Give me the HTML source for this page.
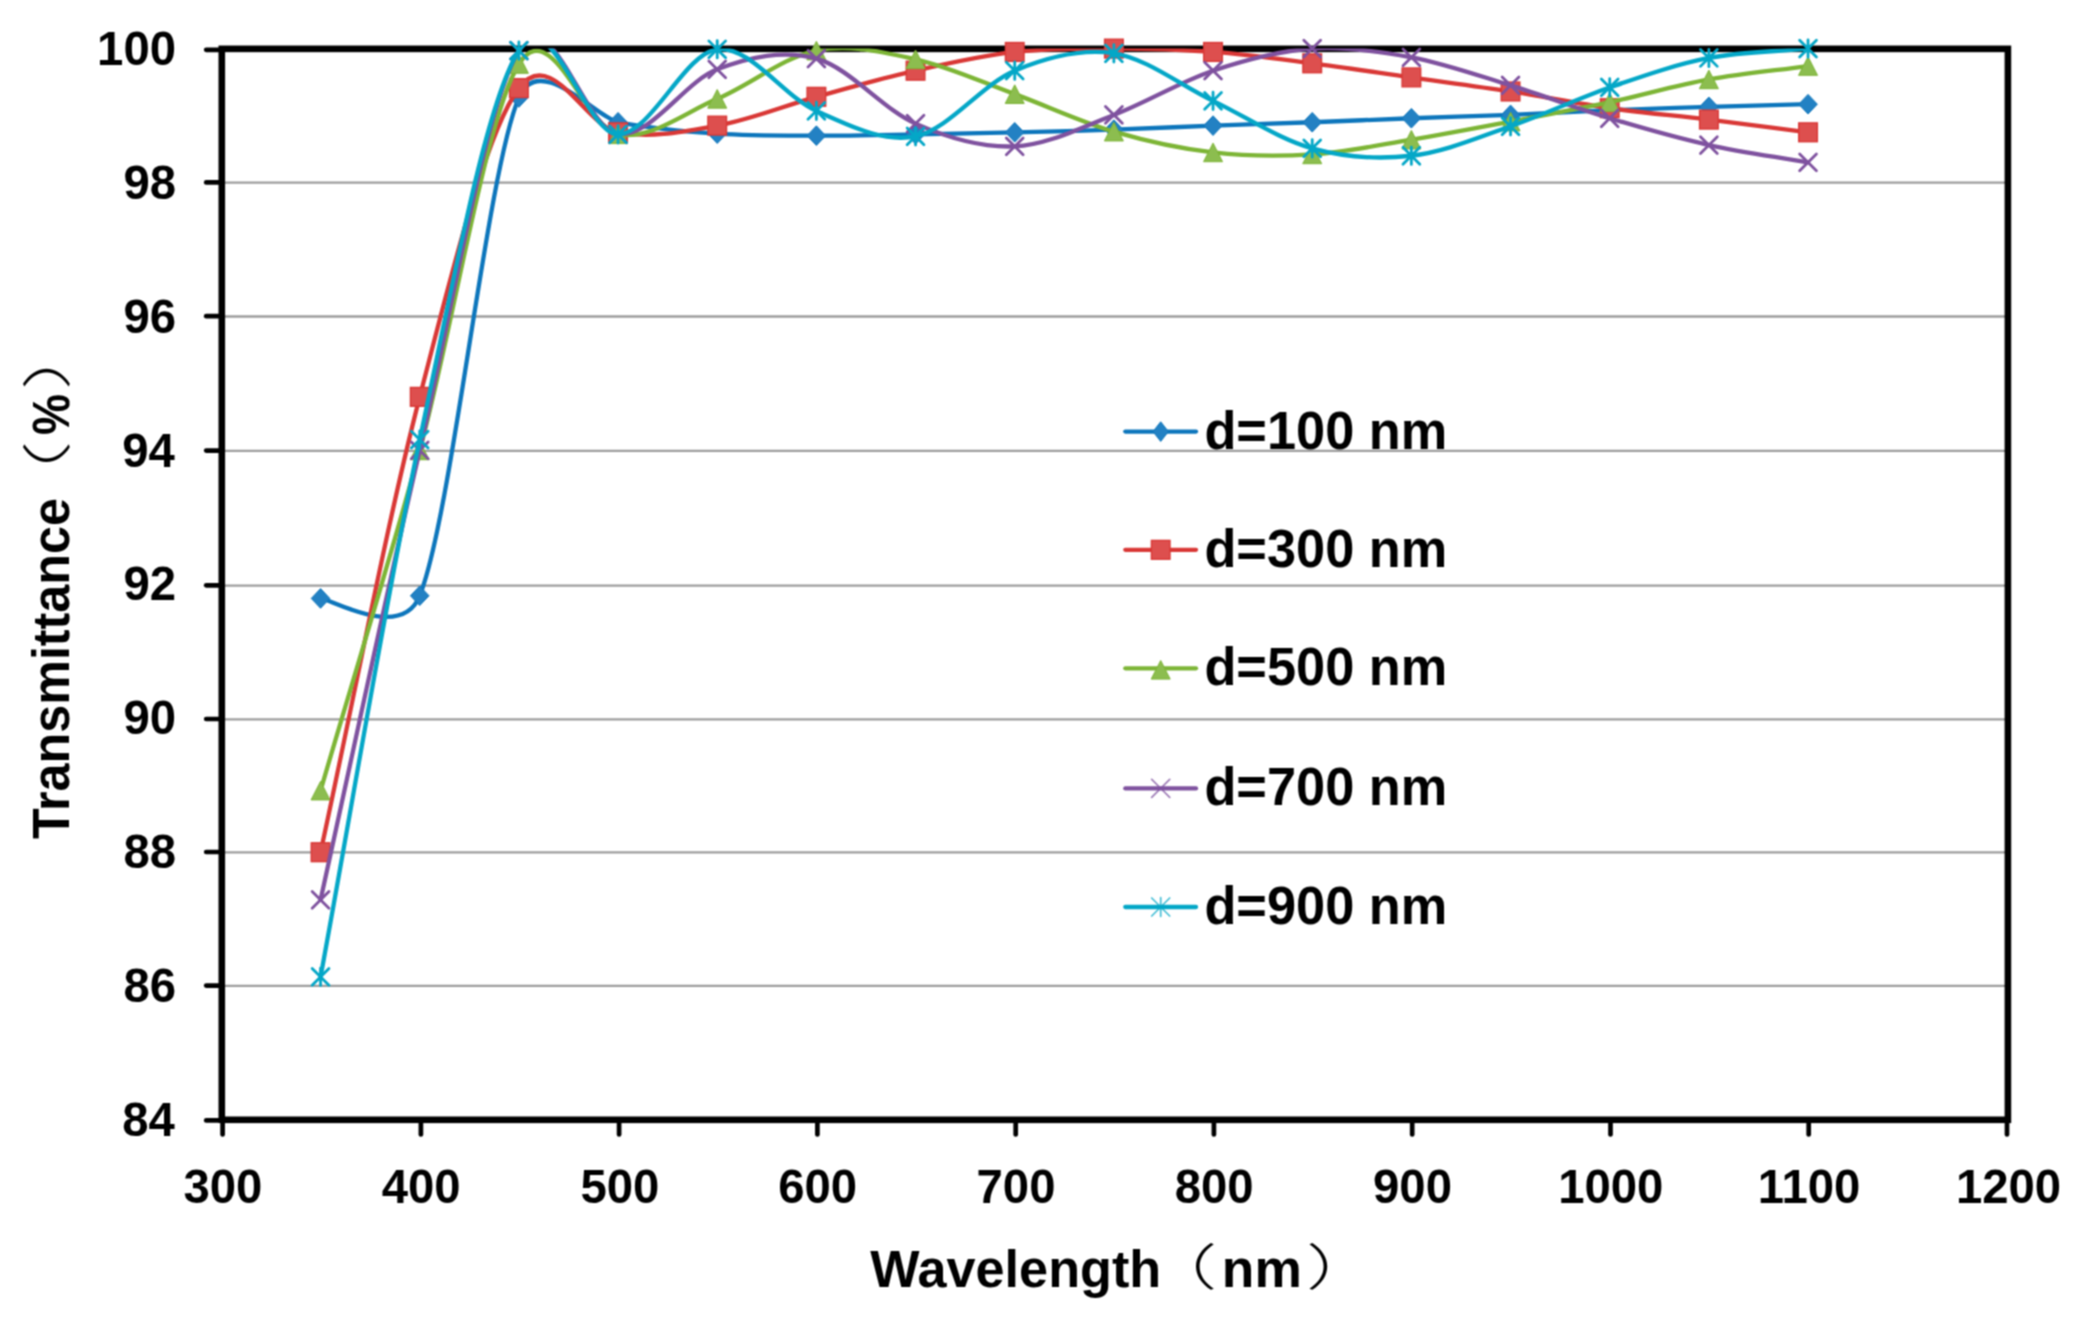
<!DOCTYPE html>
<html lang="en"><head><meta charset="utf-8"><title>Transmittance vs Wavelength</title>
<style>html,body{margin:0;padding:0;background:#fff}svg{display:block}text{font-family:"Liberation Sans","Noto Sans CJK SC",sans-serif;font-weight:bold;fill:#000}.cjk{font-family:"Noto Sans CJK SC","WenQuanYi Zen Hei",sans-serif;font-weight:300}</style></head><body>
<svg width="2085" height="1320" viewBox="0 0 2085 1320">
<rect width="2085" height="1320" fill="#fff"/>
<defs><clipPath id="plot"><rect x="221.8" y="48.6" width="1786.2" height="1071.4"/></clipPath><filter id="soft" x="0" y="0" width="2085" height="1320" filterUnits="userSpaceOnUse" color-interpolation-filters="sRGB"><feConvolveMatrix order="3" kernelMatrix="1 2 1 2 4 2 1 2 1" divisor="16" edgeMode="duplicate" preserveAlpha="false"/></filter></defs>
<g filter="url(#soft)">
<g stroke="#9c9c9c" stroke-width="2.3">
<line x1="222" x2="2007" y1="985.9" y2="985.9"/>
<line x1="222" x2="2007" y1="852.3" y2="852.3"/>
<line x1="222" x2="2007" y1="719.3" y2="719.3"/>
<line x1="222" x2="2007" y1="585.6" y2="585.6"/>
<line x1="222" x2="2007" y1="450.9" y2="450.9"/>
<line x1="222" x2="2007" y1="316.5" y2="316.5"/>
<line x1="222" x2="2007" y1="182.7" y2="182.7"/>
</g>
<rect x="221.8" y="48.85" width="1786.1" height="1070.95" fill="none" stroke="#000" stroke-width="6.6"/>
<g stroke="#000" stroke-width="4.7" stroke-linecap="round">
<line x1="206.2" x2="221" y1="1120.4" y2="1120.4"/>
<line x1="206.2" x2="221" y1="985.6" y2="985.6"/>
<line x1="206.2" x2="221" y1="852.0" y2="852.0"/>
<line x1="206.2" x2="221" y1="719.0" y2="719.0"/>
<line x1="206.2" x2="221" y1="585.3" y2="585.3"/>
<line x1="206.2" x2="221" y1="450.6" y2="450.6"/>
<line x1="206.2" x2="221" y1="316.2" y2="316.2"/>
<line x1="206.2" x2="221" y1="182.4" y2="182.4"/>
<line x1="206.2" x2="221" y1="49.8" y2="49.8"/>
<line x1="222.6" x2="222.6" y1="1121" y2="1134.5"/>
<line x1="420.9" x2="420.9" y1="1121" y2="1134.5"/>
<line x1="619.1" x2="619.1" y1="1121" y2="1134.5"/>
<line x1="817.4" x2="817.4" y1="1121" y2="1134.5"/>
<line x1="1015.7" x2="1015.7" y1="1121" y2="1134.5"/>
<line x1="1213.9" x2="1213.9" y1="1121" y2="1134.5"/>
<line x1="1412.2" x2="1412.2" y1="1121" y2="1134.5"/>
<line x1="1610.5" x2="1610.5" y1="1121" y2="1134.5"/>
<line x1="1808.7" x2="1808.7" y1="1121" y2="1134.5"/>
<line x1="2007.0" x2="2007.0" y1="1121" y2="1134.5"/>
</g>
<g font-size="47.3">
<text x="174.8" y="1135.9" text-anchor="end">84</text>
<text x="176.0" y="1002.0" text-anchor="end">86</text>
<text x="176.0" y="868.1" text-anchor="end">88</text>
<text x="176.0" y="734.2" text-anchor="end">90</text>
<text x="176.0" y="600.4" text-anchor="end">92</text>
<text x="174.8" y="466.5" text-anchor="end">94</text>
<text x="176.0" y="332.6" text-anchor="end">96</text>
<text x="176.0" y="198.8" text-anchor="end">98</text>
<text x="176.0" y="64.9" text-anchor="end">100</text>
<text x="222.9" y="1203.4" text-anchor="middle">300</text>
<text x="421.2" y="1203.4" text-anchor="middle">400</text>
<text x="619.9" y="1203.4" text-anchor="middle">500</text>
<text x="817.7" y="1203.4" text-anchor="middle">600</text>
<text x="1016.0" y="1203.4" text-anchor="middle">700</text>
<text x="1214.2" y="1203.4" text-anchor="middle">800</text>
<text x="1412.5" y="1203.4" text-anchor="middle">900</text>
<text x="1610.8" y="1203.4" text-anchor="middle">1000</text>
<text x="1809.0" y="1203.4" text-anchor="middle">1100</text>
<text x="2008.5" y="1203.4" text-anchor="middle">1200</text>
</g>
<g font-size="52.2">
<text x="870.2" y="1287.1" textLength="291" lengthAdjust="spacingAndGlyphs">Wavelength</text>
<text class="cjk" transform="translate(1217.3 1284.8) scale(1.500 1)" font-size="49.5" text-anchor="end">（</text>
<text x="1221.8" y="1287.1" textLength="80" lengthAdjust="spacingAndGlyphs">nm</text>
<text class="cjk" transform="translate(1306.0 1284.8) scale(1.500 1)" font-size="49.5" text-anchor="start">）</text>
<g transform="translate(69 0) rotate(-90)">
<text x="-839" y="0" textLength="341" lengthAdjust="spacingAndGlyphs">Transmittance</text>
<text class="cjk" transform="translate(-440.8 -4.0) scale(1.500 1)" font-size="49.5" text-anchor="end">（</text>
<text x="-435" y="0" textLength="41" lengthAdjust="spacingAndGlyphs">%</text>
<text class="cjk" transform="translate(-390.0 -4.0) scale(1.500 1)" font-size="49.5" text-anchor="start">）</text>
</g></g>
<g>
<path clip-path="url(#plot)" d="M320.56 598.42 C329.69 598.18 401.47 641.86 419.73 595.74 C452.79 512.26 485.84 176.40 518.89 97.49 C538.64 50.35 598.31 118.67 618.06 122.27 C651.12 128.29 684.17 131.42 717.23 133.65 C750.28 135.88 783.34 135.55 816.39 135.66 C849.44 135.77 882.50 134.88 915.55 134.32 C948.61 133.76 981.66 133.09 1014.72 132.31 C1047.78 131.53 1080.83 130.75 1113.88 129.63 C1146.94 128.52 1179.99 126.84 1213.05 125.62 C1246.11 124.39 1279.16 123.49 1312.22 122.27 C1345.27 121.04 1378.33 119.48 1411.38 118.25 C1444.44 117.02 1477.49 116.24 1510.55 114.90 C1543.60 113.56 1576.65 111.55 1609.71 110.21 C1642.77 108.87 1675.82 107.87 1708.88 106.86 C1741.93 105.86 1774.99 105.08 1808.04 104.19" fill="none" stroke="#0d76bc" stroke-width="4.3" stroke-linecap="round" stroke-linejoin="round"/>
<path d="M320.56 588.62 l9.30 9.8 l-9.30 9.8 l-9.30 -9.8 z" fill="#2381c3" stroke="#0d76bc" stroke-width="1" stroke-linejoin="round"/>
<path d="M419.73 585.94 l9.30 9.8 l-9.30 9.8 l-9.30 -9.8 z" fill="#2381c3" stroke="#0d76bc" stroke-width="1" stroke-linejoin="round"/>
<path d="M518.89 87.69 l9.30 9.8 l-9.30 9.8 l-9.30 -9.8 z" fill="#2381c3" stroke="#0d76bc" stroke-width="1" stroke-linejoin="round"/>
<path d="M618.06 112.47 l9.30 9.8 l-9.30 9.8 l-9.30 -9.8 z" fill="#2381c3" stroke="#0d76bc" stroke-width="1" stroke-linejoin="round"/>
<path d="M717.23 123.85 l9.30 9.8 l-9.30 9.8 l-9.30 -9.8 z" fill="#2381c3" stroke="#0d76bc" stroke-width="1" stroke-linejoin="round"/>
<path d="M816.39 125.86 l9.30 9.8 l-9.30 9.8 l-9.30 -9.8 z" fill="#2381c3" stroke="#0d76bc" stroke-width="1" stroke-linejoin="round"/>
<path d="M915.55 124.52 l9.30 9.8 l-9.30 9.8 l-9.30 -9.8 z" fill="#2381c3" stroke="#0d76bc" stroke-width="1" stroke-linejoin="round"/>
<path d="M1014.72 122.51 l9.30 9.8 l-9.30 9.8 l-9.30 -9.8 z" fill="#2381c3" stroke="#0d76bc" stroke-width="1" stroke-linejoin="round"/>
<path d="M1113.88 119.83 l9.30 9.8 l-9.30 9.8 l-9.30 -9.8 z" fill="#2381c3" stroke="#0d76bc" stroke-width="1" stroke-linejoin="round"/>
<path d="M1213.05 115.82 l9.30 9.8 l-9.30 9.8 l-9.30 -9.8 z" fill="#2381c3" stroke="#0d76bc" stroke-width="1" stroke-linejoin="round"/>
<path d="M1312.22 112.47 l9.30 9.8 l-9.30 9.8 l-9.30 -9.8 z" fill="#2381c3" stroke="#0d76bc" stroke-width="1" stroke-linejoin="round"/>
<path d="M1411.38 108.45 l9.30 9.8 l-9.30 9.8 l-9.30 -9.8 z" fill="#2381c3" stroke="#0d76bc" stroke-width="1" stroke-linejoin="round"/>
<path d="M1510.55 105.10 l9.30 9.8 l-9.30 9.8 l-9.30 -9.8 z" fill="#2381c3" stroke="#0d76bc" stroke-width="1" stroke-linejoin="round"/>
<path d="M1609.71 100.41 l9.30 9.8 l-9.30 9.8 l-9.30 -9.8 z" fill="#2381c3" stroke="#0d76bc" stroke-width="1" stroke-linejoin="round"/>
<path d="M1708.88 97.06 l9.30 9.8 l-9.30 9.8 l-9.30 -9.8 z" fill="#2381c3" stroke="#0d76bc" stroke-width="1" stroke-linejoin="round"/>
<path d="M1808.04 94.39 l9.30 9.8 l-9.30 9.8 l-9.30 -9.8 z" fill="#2381c3" stroke="#0d76bc" stroke-width="1" stroke-linejoin="round"/>
</g>
<g>
<path clip-path="url(#plot)" d="M320.56 852.24 C353.62 700.44 386.68 524.20 419.73 396.84 C452.79 269.49 485.84 132.20 518.89 88.11 C551.46 44.68 585.50 126.15 618.06 132.31 C651.12 138.56 684.17 131.53 717.23 125.62 C750.28 119.70 783.34 105.97 816.39 96.82 C849.44 87.67 882.50 78.18 915.55 70.70 C948.61 63.22 981.66 55.63 1014.72 51.95 C1047.78 48.27 1080.83 48.60 1113.88 48.60 C1146.94 48.60 1179.99 49.49 1213.05 51.95 C1246.11 54.40 1279.16 59.09 1312.22 63.33 C1345.27 67.57 1378.33 72.71 1411.38 77.40 C1444.44 82.09 1477.49 86.33 1510.55 91.46 C1543.60 96.60 1576.65 103.52 1609.71 108.20 C1642.77 112.89 1675.82 115.57 1708.88 119.59 C1741.93 123.61 1774.99 128.07 1808.04 132.31" fill="none" stroke="#d93836" stroke-width="4.3" stroke-linecap="round" stroke-linejoin="round"/>
<rect x="311.26" y="842.84" width="18.6" height="18.8" fill="#dd4f4e" stroke="#d93836" stroke-width="1.4"/>
<rect x="410.43" y="387.44" width="18.6" height="18.8" fill="#dd4f4e" stroke="#d93836" stroke-width="1.4"/>
<rect x="509.59" y="78.71" width="18.6" height="18.8" fill="#dd4f4e" stroke="#d93836" stroke-width="1.4"/>
<rect x="608.76" y="122.91" width="18.6" height="18.8" fill="#dd4f4e" stroke="#d93836" stroke-width="1.4"/>
<rect x="707.93" y="116.22" width="18.6" height="18.8" fill="#dd4f4e" stroke="#d93836" stroke-width="1.4"/>
<rect x="807.09" y="87.42" width="18.6" height="18.8" fill="#dd4f4e" stroke="#d93836" stroke-width="1.4"/>
<rect x="906.25" y="61.30" width="18.6" height="18.8" fill="#dd4f4e" stroke="#d93836" stroke-width="1.4"/>
<rect x="1005.42" y="42.55" width="18.6" height="18.8" fill="#dd4f4e" stroke="#d93836" stroke-width="1.4"/>
<rect x="1104.59" y="39.20" width="18.6" height="18.8" fill="#dd4f4e" stroke="#d93836" stroke-width="1.4"/>
<rect x="1203.75" y="42.55" width="18.6" height="18.8" fill="#dd4f4e" stroke="#d93836" stroke-width="1.4"/>
<rect x="1302.92" y="53.93" width="18.6" height="18.8" fill="#dd4f4e" stroke="#d93836" stroke-width="1.4"/>
<rect x="1402.08" y="68.00" width="18.6" height="18.8" fill="#dd4f4e" stroke="#d93836" stroke-width="1.4"/>
<rect x="1501.25" y="82.06" width="18.6" height="18.8" fill="#dd4f4e" stroke="#d93836" stroke-width="1.4"/>
<rect x="1600.41" y="98.80" width="18.6" height="18.8" fill="#dd4f4e" stroke="#d93836" stroke-width="1.4"/>
<rect x="1699.58" y="110.19" width="18.6" height="18.8" fill="#dd4f4e" stroke="#d93836" stroke-width="1.4"/>
<rect x="1798.74" y="122.91" width="18.6" height="18.8" fill="#dd4f4e" stroke="#d93836" stroke-width="1.4"/>
</g>
<g>
<path clip-path="url(#plot)" d="M320.56 790.63 C353.62 677.23 386.68 571.52 419.73 450.42 C452.79 329.32 485.84 116.69 518.89 64.00 C551.20 12.52 585.76 128.65 618.06 134.32 C651.12 140.13 684.17 112.78 717.23 98.83 C750.28 84.88 783.34 57.19 816.39 50.61 C849.44 44.02 882.50 52.06 915.55 59.32 C948.61 66.57 981.66 82.09 1014.72 94.14 C1047.78 106.19 1080.83 121.93 1113.88 131.64 C1146.94 141.35 1179.99 148.61 1213.05 152.40 C1246.11 156.20 1279.16 156.53 1312.22 154.41 C1345.27 152.29 1378.33 145.15 1411.38 139.68 C1444.44 134.21 1477.49 127.85 1510.55 121.60 C1543.60 115.35 1576.65 109.21 1609.71 102.18 C1642.77 95.14 1675.82 85.43 1708.88 79.41 C1741.93 73.38 1774.99 70.48 1808.04 66.01" fill="none" stroke="#7db536" stroke-width="4.3" stroke-linecap="round" stroke-linejoin="round"/>
<path d="M320.56 781.33 l9.5 18.6 l-19 0 z" fill="#8cbd4f" stroke="#7db536" stroke-width="1" stroke-linejoin="round"/>
<path d="M419.73 441.12 l9.5 18.6 l-19 0 z" fill="#8cbd4f" stroke="#7db536" stroke-width="1" stroke-linejoin="round"/>
<path d="M518.89 54.70 l9.5 18.6 l-19 0 z" fill="#8cbd4f" stroke="#7db536" stroke-width="1" stroke-linejoin="round"/>
<path d="M618.06 125.02 l9.5 18.6 l-19 0 z" fill="#8cbd4f" stroke="#7db536" stroke-width="1" stroke-linejoin="round"/>
<path d="M717.23 89.53 l9.5 18.6 l-19 0 z" fill="#8cbd4f" stroke="#7db536" stroke-width="1" stroke-linejoin="round"/>
<path d="M816.39 41.31 l9.5 18.6 l-19 0 z" fill="#8cbd4f" stroke="#7db536" stroke-width="1" stroke-linejoin="round"/>
<path d="M915.55 50.02 l9.5 18.6 l-19 0 z" fill="#8cbd4f" stroke="#7db536" stroke-width="1" stroke-linejoin="round"/>
<path d="M1014.72 84.84 l9.5 18.6 l-19 0 z" fill="#8cbd4f" stroke="#7db536" stroke-width="1" stroke-linejoin="round"/>
<path d="M1113.88 122.34 l9.5 18.6 l-19 0 z" fill="#8cbd4f" stroke="#7db536" stroke-width="1" stroke-linejoin="round"/>
<path d="M1213.05 143.10 l9.5 18.6 l-19 0 z" fill="#8cbd4f" stroke="#7db536" stroke-width="1" stroke-linejoin="round"/>
<path d="M1312.22 145.11 l9.5 18.6 l-19 0 z" fill="#8cbd4f" stroke="#7db536" stroke-width="1" stroke-linejoin="round"/>
<path d="M1411.38 130.38 l9.5 18.6 l-19 0 z" fill="#8cbd4f" stroke="#7db536" stroke-width="1" stroke-linejoin="round"/>
<path d="M1510.55 112.30 l9.5 18.6 l-19 0 z" fill="#8cbd4f" stroke="#7db536" stroke-width="1" stroke-linejoin="round"/>
<path d="M1609.71 92.88 l9.5 18.6 l-19 0 z" fill="#8cbd4f" stroke="#7db536" stroke-width="1" stroke-linejoin="round"/>
<path d="M1708.88 70.11 l9.5 18.6 l-19 0 z" fill="#8cbd4f" stroke="#7db536" stroke-width="1" stroke-linejoin="round"/>
<path d="M1808.04 56.71 l9.5 18.6 l-19 0 z" fill="#8cbd4f" stroke="#7db536" stroke-width="1" stroke-linejoin="round"/>
</g>
<g>
<path clip-path="url(#plot)" d="M320.56 899.79 C353.62 750.00 386.68 591.95 419.73 450.42 C452.79 308.89 485.84 103.29 518.89 50.61 C551.95 -2.07 585.01 131.20 618.06 134.32 C651.12 137.45 684.17 81.97 717.23 69.36 C750.28 56.75 783.34 49.60 816.39 58.65 C849.44 67.69 882.50 108.98 915.55 123.61 C948.61 138.23 981.66 147.83 1014.72 146.38 C1047.78 144.93 1080.83 127.51 1113.88 114.90 C1146.94 102.29 1179.99 81.75 1213.05 70.70 C1246.11 59.65 1279.16 50.83 1312.22 48.60 C1345.27 46.37 1378.33 51.17 1411.38 57.31 C1444.44 63.45 1477.49 75.28 1510.55 85.43 C1543.60 95.59 1576.65 108.31 1609.71 118.25 C1642.77 128.18 1675.82 137.67 1708.88 145.04 C1741.93 152.40 1774.99 156.64 1808.04 162.45" fill="none" stroke="#7f529f" stroke-width="4.3" stroke-linecap="round" stroke-linejoin="round"/>
<path d="M312.17 891.39 l16.80 16.80 M328.96 891.39 l-16.80 16.80" fill="none" stroke="#7f529f" stroke-width="2.8" stroke-linecap="round" opacity="1.00"/>
<path d="M411.33 442.02 l16.80 16.80 M428.13 442.02 l-16.80 16.80" fill="none" stroke="#7f529f" stroke-width="2.8" stroke-linecap="round" opacity="1.00"/>
<path d="M510.50 42.21 l16.80 16.80 M527.29 42.21 l-16.80 16.80" fill="none" stroke="#7f529f" stroke-width="2.8" stroke-linecap="round" opacity="1.00"/>
<path d="M609.66 125.92 l16.80 16.80 M626.46 125.92 l-16.80 16.80" fill="none" stroke="#7f529f" stroke-width="2.8" stroke-linecap="round" opacity="1.00"/>
<path d="M708.83 60.96 l16.80 16.80 M725.62 60.96 l-16.80 16.80" fill="none" stroke="#7f529f" stroke-width="2.8" stroke-linecap="round" opacity="1.00"/>
<path d="M807.99 50.25 l16.80 16.80 M824.79 50.25 l-16.80 16.80" fill="none" stroke="#7f529f" stroke-width="2.8" stroke-linecap="round" opacity="1.00"/>
<path d="M907.15 115.21 l16.80 16.80 M923.95 115.21 l-16.80 16.80" fill="none" stroke="#7f529f" stroke-width="2.8" stroke-linecap="round" opacity="1.00"/>
<path d="M1006.32 137.98 l16.80 16.80 M1023.12 137.98 l-16.80 16.80" fill="none" stroke="#7f529f" stroke-width="2.8" stroke-linecap="round" opacity="1.00"/>
<path d="M1105.48 106.50 l16.80 16.80 M1122.29 106.50 l-16.80 16.80" fill="none" stroke="#7f529f" stroke-width="2.8" stroke-linecap="round" opacity="1.00"/>
<path d="M1204.65 62.30 l16.80 16.80 M1221.45 62.30 l-16.80 16.80" fill="none" stroke="#7f529f" stroke-width="2.8" stroke-linecap="round" opacity="1.00"/>
<path d="M1303.82 40.20 l16.80 16.80 M1320.62 40.20 l-16.80 16.80" fill="none" stroke="#7f529f" stroke-width="2.8" stroke-linecap="round" opacity="1.00"/>
<path d="M1402.98 48.91 l16.80 16.80 M1419.78 48.91 l-16.80 16.80" fill="none" stroke="#7f529f" stroke-width="2.8" stroke-linecap="round" opacity="1.00"/>
<path d="M1502.14 77.03 l16.80 16.80 M1518.95 77.03 l-16.80 16.80" fill="none" stroke="#7f529f" stroke-width="2.8" stroke-linecap="round" opacity="1.00"/>
<path d="M1601.31 109.85 l16.80 16.80 M1618.11 109.85 l-16.80 16.80" fill="none" stroke="#7f529f" stroke-width="2.8" stroke-linecap="round" opacity="1.00"/>
<path d="M1700.48 136.64 l16.80 16.80 M1717.28 136.64 l-16.80 16.80" fill="none" stroke="#7f529f" stroke-width="2.8" stroke-linecap="round" opacity="1.00"/>
<path d="M1799.64 154.05 l16.80 16.80 M1816.44 154.05 l-16.80 16.80" fill="none" stroke="#7f529f" stroke-width="2.8" stroke-linecap="round" opacity="1.00"/>
</g>
<g>
<path clip-path="url(#plot)" d="M320.56 976.80 C353.62 797.77 386.68 594.07 419.73 439.70 C452.79 285.34 485.84 101.51 518.89 50.61 C551.95 -0.29 585.01 134.54 618.06 134.32 C651.12 134.10 684.17 53.18 717.23 49.27 C750.28 45.36 783.34 96.37 816.39 110.88 C849.44 125.39 882.50 143.03 915.55 136.33 C948.61 129.63 981.66 84.54 1014.72 70.70 C1047.78 56.86 1080.83 48.27 1113.88 53.29 C1146.94 58.31 1179.99 84.99 1213.05 100.84 C1246.11 116.69 1279.16 139.23 1312.22 148.39 C1345.27 157.54 1378.33 159.44 1411.38 155.75 C1444.44 152.07 1477.49 137.67 1510.55 126.29 C1543.60 114.90 1576.65 98.83 1609.71 87.44 C1642.77 76.06 1675.82 64.45 1708.88 57.98 C1741.93 51.50 1774.99 51.73 1808.04 48.60" fill="none" stroke="#04a7c7" stroke-width="4.3" stroke-linecap="round" stroke-linejoin="round"/>
<path d="M312.17 968.40 l16.80 16.80 M328.96 968.40 l-16.80 16.80 M320.56 968.10 l0 17.40" fill="none" stroke="#04a7c7" stroke-width="2.8" stroke-linecap="round" opacity="1.00"/>
<path d="M411.33 431.30 l16.80 16.80 M428.13 431.30 l-16.80 16.80 M419.73 431.00 l0 17.40" fill="none" stroke="#04a7c7" stroke-width="2.8" stroke-linecap="round" opacity="1.00"/>
<path d="M510.50 42.21 l16.80 16.80 M527.29 42.21 l-16.80 16.80 M518.89 41.91 l0 17.40" fill="none" stroke="#04a7c7" stroke-width="2.8" stroke-linecap="round" opacity="1.00"/>
<path d="M609.66 125.92 l16.80 16.80 M626.46 125.92 l-16.80 16.80 M618.06 125.62 l0 17.40" fill="none" stroke="#04a7c7" stroke-width="2.8" stroke-linecap="round" opacity="1.00"/>
<path d="M708.83 40.87 l16.80 16.80 M725.62 40.87 l-16.80 16.80 M717.23 40.57 l0 17.40" fill="none" stroke="#04a7c7" stroke-width="2.8" stroke-linecap="round" opacity="1.00"/>
<path d="M807.99 102.48 l16.80 16.80 M824.79 102.48 l-16.80 16.80 M816.39 102.18 l0 17.40" fill="none" stroke="#04a7c7" stroke-width="2.8" stroke-linecap="round" opacity="1.00"/>
<path d="M907.15 127.93 l16.80 16.80 M923.95 127.93 l-16.80 16.80 M915.55 127.63 l0 17.40" fill="none" stroke="#04a7c7" stroke-width="2.8" stroke-linecap="round" opacity="1.00"/>
<path d="M1006.32 62.30 l16.80 16.80 M1023.12 62.30 l-16.80 16.80 M1014.72 62.00 l0 17.40" fill="none" stroke="#04a7c7" stroke-width="2.8" stroke-linecap="round" opacity="1.00"/>
<path d="M1105.48 44.89 l16.80 16.80 M1122.29 44.89 l-16.80 16.80 M1113.88 44.59 l0 17.40" fill="none" stroke="#04a7c7" stroke-width="2.8" stroke-linecap="round" opacity="1.00"/>
<path d="M1204.65 92.44 l16.80 16.80 M1221.45 92.44 l-16.80 16.80 M1213.05 92.14 l0 17.40" fill="none" stroke="#04a7c7" stroke-width="2.8" stroke-linecap="round" opacity="1.00"/>
<path d="M1303.82 139.99 l16.80 16.80 M1320.62 139.99 l-16.80 16.80 M1312.22 139.69 l0 17.40" fill="none" stroke="#04a7c7" stroke-width="2.8" stroke-linecap="round" opacity="1.00"/>
<path d="M1402.98 147.35 l16.80 16.80 M1419.78 147.35 l-16.80 16.80 M1411.38 147.05 l0 17.40" fill="none" stroke="#04a7c7" stroke-width="2.8" stroke-linecap="round" opacity="1.00"/>
<path d="M1502.14 117.89 l16.80 16.80 M1518.95 117.89 l-16.80 16.80 M1510.55 117.59 l0 17.40" fill="none" stroke="#04a7c7" stroke-width="2.8" stroke-linecap="round" opacity="1.00"/>
<path d="M1601.31 79.04 l16.80 16.80 M1618.11 79.04 l-16.80 16.80 M1609.71 78.74 l0 17.40" fill="none" stroke="#04a7c7" stroke-width="2.8" stroke-linecap="round" opacity="1.00"/>
<path d="M1700.48 49.58 l16.80 16.80 M1717.28 49.58 l-16.80 16.80 M1708.88 49.28 l0 17.40" fill="none" stroke="#04a7c7" stroke-width="2.8" stroke-linecap="round" opacity="1.00"/>
<path d="M1799.64 40.20 l16.80 16.80 M1816.44 40.20 l-16.80 16.80 M1808.04 39.90 l0 17.40" fill="none" stroke="#04a7c7" stroke-width="2.8" stroke-linecap="round" opacity="1.00"/>
</g>
<g font-size="52.8">
<line x1="1125.3" x2="1196" y1="431.6" y2="431.6" stroke="#0d76bc" stroke-width="4.3" stroke-linecap="round"/>
<path d="M1160.70 421.80 l7.70 9.8 l-7.70 9.8 l-7.70 -9.8 z" fill="#2381c3" stroke="#0d76bc" stroke-width="1" stroke-linejoin="round"/>
<text x="1204.4" y="448.6" textLength="243" lengthAdjust="spacingAndGlyphs">d=100 nm</text>
<line x1="1125.3" x2="1196" y1="549.8" y2="549.8" stroke="#d93836" stroke-width="4.3" stroke-linecap="round"/>
<rect x="1151.40" y="540.40" width="18.6" height="18.8" fill="#dd4f4e" stroke="#d93836" stroke-width="1.4"/>
<text x="1204.4" y="566.8" textLength="243" lengthAdjust="spacingAndGlyphs">d=300 nm</text>
<line x1="1125.3" x2="1196" y1="668.3" y2="668.3" stroke="#7db536" stroke-width="4.3" stroke-linecap="round"/>
<path d="M1160.70 660.50 l9.5 18.6 l-19 0 z" fill="#8cbd4f" stroke="#7db536" stroke-width="1" stroke-linejoin="round"/>
<text x="1204.4" y="685.3" textLength="243" lengthAdjust="spacingAndGlyphs">d=500 nm</text>
<line x1="1125.3" x2="1196" y1="788.4" y2="788.4" stroke="#7f529f" stroke-width="4.3" stroke-linecap="round"/>
<path d="M1151.70 779.40 l18.00 18.00 M1169.70 779.40 l-18.00 18.00" fill="none" stroke="#7f529f" stroke-width="1.7" stroke-linecap="round" opacity="0.75"/>
<text x="1204.4" y="805.4" textLength="243" lengthAdjust="spacingAndGlyphs">d=700 nm</text>
<line x1="1125.3" x2="1196" y1="907.0" y2="907.0" stroke="#04a7c7" stroke-width="4.3" stroke-linecap="round"/>
<path d="M1151.70 898.00 l18.00 18.00 M1169.70 898.00 l-18.00 18.00 M1160.70 897.70 l0 18.60" fill="none" stroke="#04a7c7" stroke-width="1.7" stroke-linecap="round" opacity="0.75"/>
<text x="1204.4" y="924.0" textLength="243" lengthAdjust="spacingAndGlyphs">d=900 nm</text>
</g>
</g>
</svg></body></html>
